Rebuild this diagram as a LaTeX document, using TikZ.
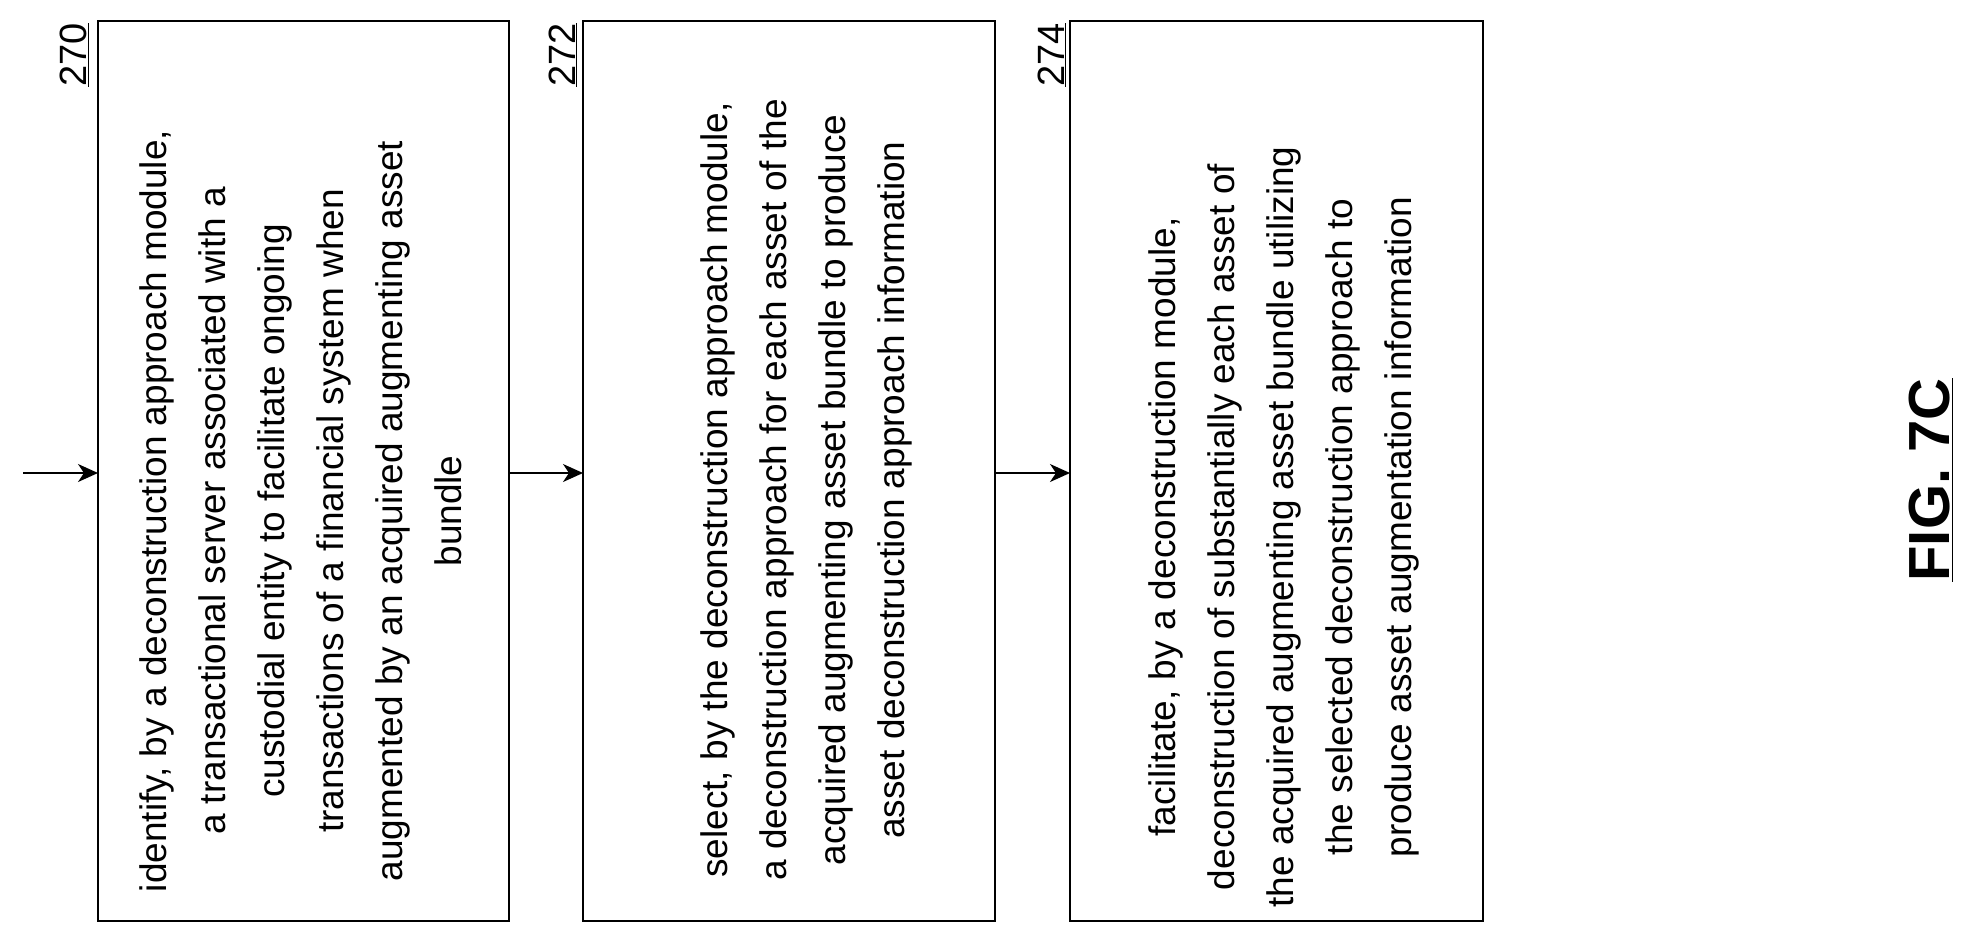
\documentclass[tikz,border=0pt]{standalone}
\usepackage{fontspec}
\setmainfont{Liberation Sans}
\usetikzlibrary{arrows.meta}

\tikzset{
  stepbox/.style={draw, line width=1.6pt},
  steptext/.style={rotate=90, align=center, font=\fontsize{37}{59}\selectfont},
  reflabel/.style={rotate=90, font=\fontsize{38}{40}\selectfont},
  flow/.style={-{Stealth[length=20pt,width=18pt,inset=6pt]}, line width=1.6pt}
}

\begin{document}
\begin{tikzpicture}[x=1pt, y=-1pt]
            \useasboundingbox (0,0) rectangle (1979,943);

            % Boxes
            \draw[stepbox] (98,21) rectangle (509,921);
            \draw[stepbox] (583,21) rectangle (995,921);
            \draw[stepbox] (1070,21) rectangle (1483,921);
            \coordinate (in) at (23,473);
            \coordinate (b1w) at (98,473);
            \coordinate (b1e) at (509,473);
            \coordinate (b2w) at (583,473);
            \coordinate (b2e) at (995,473);
            \coordinate (b3w) at (1070,473);

            % Step texts
            \node[steptext] (identify) at (301,511) {identify, by a deconstruction approach module,\\a transactional server associated with a\\custodial entity to facilitate ongoing\\transactions of a financial system when\\augmented by an acquired augmenting asset\\bundle};
            \node[steptext] (select) at (806,490) {select, by the deconstruction approach module,\\a deconstruction approach for each asset of the\\acquired augmenting asset bundle to produce\\asset deconstruction approach information};
            \node[steptext] (facilitate) at (1284,527) {facilitate, by a deconstruction module,\\deconstruction of substantially each asset of\\the acquired augmenting asset bundle utilizing\\the selected deconstruction approach to\\produce asset augmentation information};

            % Reference numbers
            \node[reflabel] (n270) at (74,55) {\underline{270}};
            \node[reflabel] (n272) at (563,55) {\underline{272}};
            \node[reflabel] (n274) at (1052,55) {\underline{274}};

            % Arrows
            \draw[flow] (in) -- (b1w);
            \draw[flow] (b1e) -- (b2w);
            \draw[flow] (b2e) -- (b3w);

            \node[rotate=90, font=\bfseries\fontsize{58}{60}\selectfont] (fig) at (1931,480) {\underline{FIG. 7C}};
        \end{tikzpicture}
\end{document}
